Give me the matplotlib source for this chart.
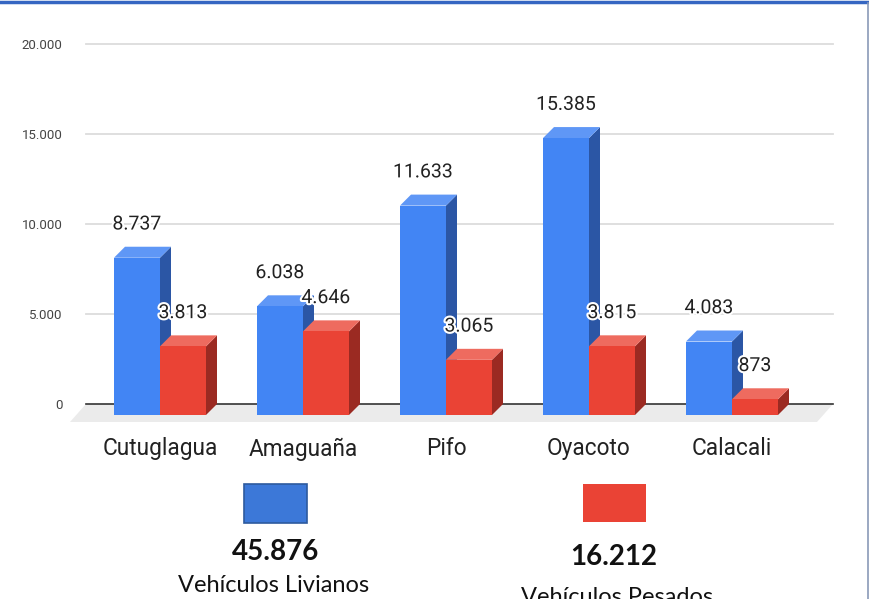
import matplotlib
matplotlib.use("Agg")
import matplotlib.pyplot as plt
from matplotlib.patches import Polygon, Rectangle
from matplotlib.lines import Line2D
import matplotlib.patheffects as pe

categories = ["Cutuglagua", "Amaguaña", "Pifo", "Oyacoto", "Calacali"]
livianos = [8737, 6038, 11633, 15385, 4083]
pesados = [3813, 4646, 3065, 3815, 873]
yticks = [0, 5000, 10000, 15000, 20000]
ytick_labels = ["0", "5.000", "10.000", "15.000", "20.000"]
total_livianos = "45.876"
total_pesados = "16.212"
label_livianos = "Vehículos Livianos"
label_pesados = "Vehículos Pesados"

W, H = 870, 599
fig = plt.figure(figsize=(W / 100, H / 100), dpi=100)
fig.patch.set_facecolor("white")

def fx(px):
    return px / W

def fy(py):
    return 1 - py / H

# plot area: back plane from x=86..833 px, y=44..404 px
ax = fig.add_axes([fx(86), fy(404), fx(833) - fx(86), fy(44) - fy(404)])
x0 = (86 - 160) / 143
x1 = (833 - 160) / 143
ax.set_xlim(x0, x1)
ax.set_ylim(0, 20000)
for s in ax.spines.values():
    s.set_visible(False)

# depth of the 3D look in data units
px_x = (x1 - x0) / 747
px_y = 20000 / 360
dx, dy = 11 * px_x, 11 * px_y
w = 46 * px_x

ax.set_yticks(yticks)
ax.set_yticklabels(ytick_labels, fontsize=9.5, color="#444444", family="Roboto")
ax.tick_params(axis="y", length=0, pad=17)
ax.set_xticks(range(len(categories)))
ax.set_xticklabels(categories, fontsize=16.3, color="#222222", family="Roboto")
ax.tick_params(axis="x", length=0, pad=24)

for t in yticks[1:]:
    ax.plot([x0, x1], [t, t], color="#dcdcdc", lw=1.3, zorder=1, clip_on=False)

# floor
fdx, fdy = 16 * px_x, 18 * px_y
ax.add_patch(Polygon([(x0, 0), (x1, 0), (x1 - fdx, -fdy), (x0 - fdx, -fdy)],
                     closed=True, facecolor="#ebebeb", edgecolor="none",
                     zorder=1, clip_on=False))
ax.plot([x0, x1], [0, 0], color="#333333", lw=1.2, zorder=2, clip_on=False)


def bar3d(left, v, front, side, top):
    # front face is shifted left/down by (dx, dy) from the back plane
    fl, fr = left, left + w
    fb, ft = -dy, v - dy
    ax.add_patch(Polygon([(fr, fb), (fr + dx, 0), (fr + dx, v), (fr, ft)],
                         closed=True, facecolor=side, edgecolor="none",
                         zorder=3, clip_on=False))
    ax.add_patch(Polygon([(fl, ft), (fl + dx, v), (fr + dx, v), (fr, ft)],
                         closed=True, facecolor=top, edgecolor="none",
                         zorder=3, clip_on=False))
    ax.add_patch(Rectangle((fl, fb), w, v, facecolor=front, edgecolor="none",
                           zorder=3, clip_on=False))


halo = [pe.withStroke(linewidth=3, foreground="white")]
for i in range(len(categories)):
    bar3d(i - w, livianos[i], "#4285f4", "#2b56a5", "#5f97f6")
    bar3d(i, pesados[i], "#ea4335", "#9b2a22", "#ee6b5f")
    for left, v in [(i - w, livianos[i]), (i, pesados[i])]:
        ax.annotate(f"{v:,}".replace(",", "."), (left + w / 2, v),
                    xytext=(0, 16), textcoords="offset points",
                    ha="center", va="center", fontsize=14, color="#222222",
                    family="Roboto", path_effects=halo, zorder=5)

# legend blocks
fig.add_artist(Rectangle((fx(244), fy(523)), fx(307) - fx(244), fy(484) - fy(523),
                         transform=fig.transFigure, facecolor="#3c78d8",
                         edgecolor="#2d5a9e", lw=1.2))
fig.add_artist(Rectangle((fx(583), fy(522)), fx(646) - fx(583), fy(484) - fy(522),
                         transform=fig.transFigure, facecolor="#ea4335",
                         edgecolor="none"))
fig.text(fx(276), fy(552), total_livianos, ha="center", va="center",
         fontsize=20, fontweight="bold", family="Lato", color="#111111")
fig.text(fx(274), fy(586), label_livianos, ha="center", va="center",
         fontsize=17, family="Lato", color="#111111")
fig.text(fx(614), fy(557), total_pesados, ha="center", va="center",
         fontsize=20, fontweight="bold", family="Lato", color="#111111")
fig.text(fx(617), fy(597), label_pesados, ha="center", va="center",
         fontsize=17, family="Lato", color="#111111")

# frame edges visible in the source image
fig.add_artist(Line2D([0, 1], [fy(1.5), fy(1.5)], transform=fig.transFigure,
                      color="#3566c2", lw=2.5))
fig.add_artist(Line2D([fx(868.5), fx(868.5)], [0, fy(3)], transform=fig.transFigure,
                      color="#8a9ab8", lw=1.2))

fig.savefig("out.png", dpi=100)
